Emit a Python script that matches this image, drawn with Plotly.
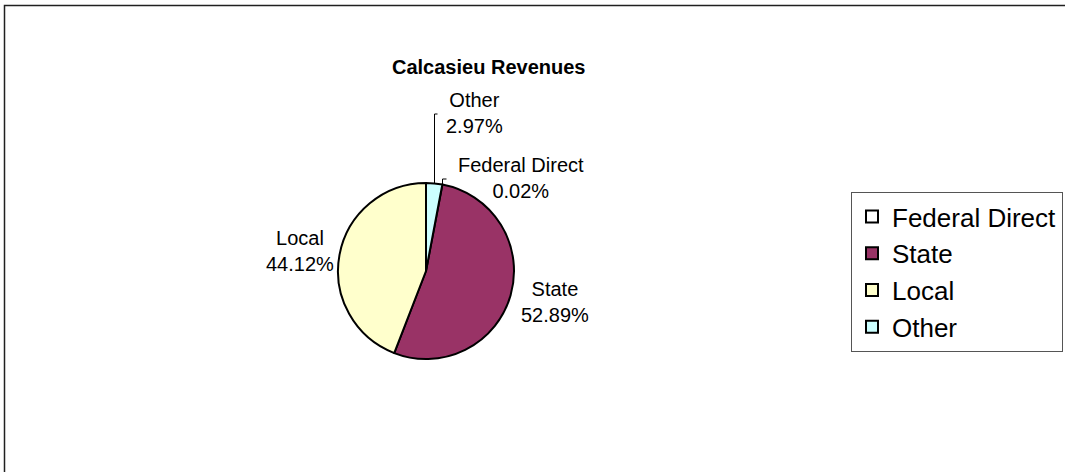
import math
import plotly.graph_objects as go

# Revenue shares (percent of total)
categories = ["Federal Direct", "State", "Local", "Other"]
shares = [0.02, 52.89, 44.12, 2.97]
colors = ["#FFFFFF", "#993366", "#FFFFCC", "#CCFFFF"]

W, H = 1065, 472
FONT = "Liberation Sans, Arial, sans-serif"

# pie geometry in pixels
cx, cy, r = 426, 271, 88


def px(x):
    return x / W


def py(y):
    return 1 - y / H


total = sum(shares)
# first slice starts right after the "Other" wedge, measured clockwise from 12 o'clock
start_deg = shares[-1] / total * 360

fig = go.Figure(
    go.Pie(
        labels=categories,
        values=shares,
        sort=False,
        direction="clockwise",
        rotation=start_deg,
        marker=dict(colors=colors, line=dict(color="black", width=2)),
        textinfo="none",
        hoverinfo="label+percent",
        domain=dict(x=[px(cx - r), px(cx + r)], y=[py(cy + r), py(cy - r)]),
    )
)

# mid-angle (clockwise from top) of each slice
mids = []
acc = start_deg
for v in shares:
    span = v / total * 360
    mids.append(acc + span / 2)
    acc += span


def edge(deg):
    a = math.radians(deg)
    return cx + r * math.sin(a), cy - r * math.cos(a)


# label anchor positions (pixels, block centres)
label_pos = {
    "Federal Direct": (521, 178),
    "State": (555, 302),
    "Local": (300, 251),
    "Other": (474, 113),
}

annotations = []
for name, v in zip(categories, shares):
    lx, ly = label_pos[name]
    annotations.append(
        dict(
            x=px(lx), y=py(ly), xref="paper", yref="paper",
            text=f"{name}<br>{v:.2f}%",
            showarrow=False, xanchor="center", yanchor="middle",
            font=dict(family=FONT, size=20, color="black"),
        )
    )

annotations.append(
    dict(
        x=px(488), y=py(67), xref="paper", yref="paper",
        text="<b>Calcasieu Revenues</b>", showarrow=False,
        xanchor="center", yanchor="middle",
        font=dict(family=FONT, size=20, color="black"),
    )
)

shapes = []
# leader lines for the two thin top wedges
for idx, top_y, tick in [(3, 114, 3), (0, 179, 4)]:
    sx, sy = edge(mids[idx])
    sx = round(sx) + 0.5
    path = f"M {px(sx)},{py(sy)} L {px(sx)},{py(top_y)} L {px(sx + tick)},{py(top_y)}"
    shapes.append(dict(type="path", xref="paper", yref="paper", path=path,
                       line=dict(color="black", width=1)))

# chart area frame
shapes.append(dict(type="rect", xref="paper", yref="paper",
                   x0=px(4.5), y0=py(5.5), x1=px(W + 10), y1=py(H + 10),
                   line=dict(color="#202020", width=1.5), fillcolor="rgba(0,0,0,0)"))

fig.update_layout(
    width=W, height=H,
    margin=dict(l=0, r=0, t=0, b=0),
    paper_bgcolor="white", plot_bgcolor="white",
    showlegend=True,
    legend=dict(
        x=px(851), y=py(192), xanchor="left", yanchor="top",
        bordercolor="#555555", borderwidth=1, bgcolor="white",
        font=dict(family=FONT, size=26, color="black"),
        traceorder="normal",
    ),
    annotations=annotations,
    shapes=shapes,
)

fig.write_html("out.html")
